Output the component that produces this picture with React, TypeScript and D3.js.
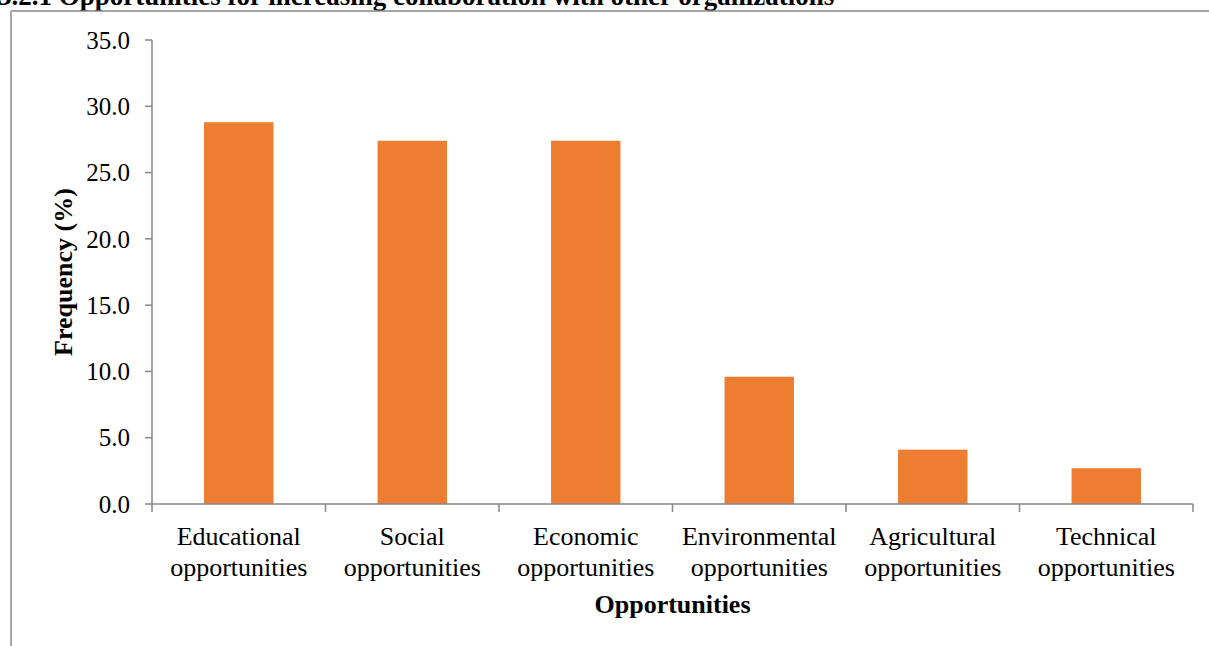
import React from 'react';
import * as d3 from 'd3';

const categories = [
  ['Educational', 'opportunities'],
  ['Social', 'opportunities'],
  ['Economic', 'opportunities'],
  ['Environmental', 'opportunities'],
  ['Agricultural', 'opportunities'],
  ['Technical', 'opportunities'],
];
const frequency = [28.8, 27.4, 27.4, 9.6, 4.1, 2.7];
const yTicks = [0, 5, 10, 15, 20, 25, 30, 35];

const WIDTH = 1209;
const HEIGHT = 646;
const FONT = '"Liberation Serif", "Times New Roman", serif';

export default function App() {
  const MARGIN = { top: 40, right: 16, bottom: 142, left: 152 };
  const boundsWidth = WIDTH - MARGIN.left - MARGIN.right;
  const boundsHeight = HEIGHT - MARGIN.top - MARGIN.bottom;

  const keys = categories.map((c) => c.join(' '));
  const xScale = d3.scaleBand().domain(keys).range([0, boundsWidth]).paddingInner(0.6).paddingOuter(0.3);
  const step = xScale.step();
  const yScale = d3.scaleLinear().domain([0, 35]).range([boundsHeight, 0]);

  const axisColor = '#868686';

  return (
    <svg width={WIDTH} height={HEIGHT} style={{ position: 'absolute', left: 0, top: 0, background: '#fff' }}>
      {/* title, cut off at the top like the page it came from */}
      <text x={-2} y={5} fontFamily={FONT} fontWeight="bold" fontSize={27} fill="#000">
        3.2.1 Opportunities for increasing collaboration with other organizations
      </text>
      {/* frame */}
      <line x1={11} x2={WIDTH} y1={11} y2={11} stroke="#888" strokeWidth={1.5} />
      <line x1={11} x2={11} y1={11} y2={HEIGHT} stroke="#888" strokeWidth={1.5} />

      <g transform={`translate(${MARGIN.left},${MARGIN.top})`}>
        {frequency.map((v, i) => (
          <rect
            key={i}
            x={xScale(keys[i])}
            y={yScale(v)}
            width={xScale.bandwidth()}
            height={boundsHeight - yScale(v)}
            fill="#ED7D31"
          />
        ))}

        {/* y axis */}
        <line x1={0} x2={0} y1={0} y2={boundsHeight} stroke={axisColor} strokeWidth={1.5} />
        {yTicks.map((t) => (
          <g key={t}>
            <line x1={-7} x2={0} y1={yScale(t)} y2={yScale(t)} stroke={axisColor} strokeWidth={1.5} />
            <text
              x={-22}
              y={yScale(t)}
              dy="0.35em"
              textAnchor="end"
              fontFamily={FONT}
              fontSize={25}
              fill="#000"
            >
              {t.toFixed(1)}
            </text>
          </g>
        ))}

        {/* x axis */}
        <line x1={0} x2={boundsWidth} y1={boundsHeight} y2={boundsHeight} stroke={axisColor} strokeWidth={1.5} />
        {d3.range(categories.length + 1).map((i) => (
          <line
            key={i}
            x1={i * step}
            x2={i * step}
            y1={boundsHeight}
            y2={boundsHeight + 8}
            stroke={axisColor}
            strokeWidth={1.5}
          />
        ))}
        {categories.map((c, i) => {
          const cx = (xScale(keys[i]) ?? 0) + xScale.bandwidth() / 2;
          return (
            <text key={i} x={cx} textAnchor="middle" fontFamily={FONT} fontSize={26} fill="#000">
              <tspan x={cx} y={boundsHeight + 41}>{c[0]}</tspan>
              <tspan x={cx} y={boundsHeight + 72}>{c[1]}</tspan>
            </text>
          );
        })}

        <text
          x={boundsWidth / 2}
          y={boundsHeight + 109}
          textAnchor="middle"
          fontFamily={FONT}
          fontWeight="bold"
          fontSize={26}
          fill="#000"
        >
          Opportunities
        </text>
        <text
          transform={`translate(${72 - MARGIN.left},${272 - MARGIN.top}) rotate(-90)`}
          textAnchor="middle"
          fontFamily={FONT}
          fontWeight="bold"
          fontSize={26}
          fill="#000"
        >
          Frequency (%)
        </text>
      </g>
    </svg>
  );
}
